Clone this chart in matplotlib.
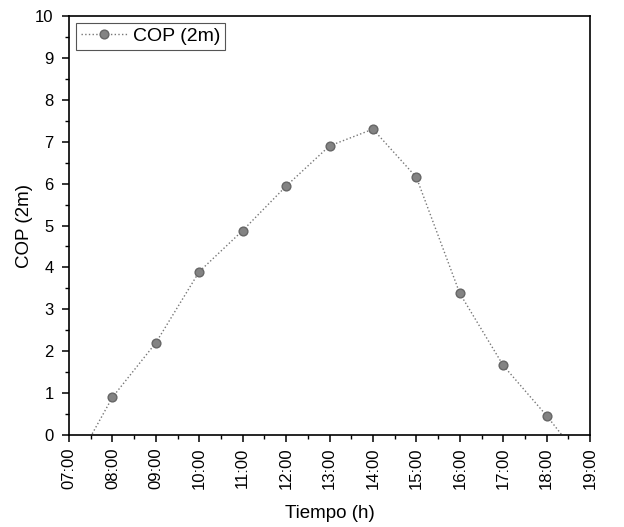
import matplotlib
matplotlib.use('Agg')
import matplotlib.pyplot as plt
from matplotlib.ticker import MultipleLocator, FuncFormatter

plt.rcParams['font.family'] = ['Liberation Sans', 'DejaVu Sans']

# datos: hora del dia y COP medido a 2 m
horas = [7, 8, 9, 10, 11, 12, 13, 14, 15, 16, 17, 18, 19]
cop_2m = [-0.97, 0.9, 2.2, 3.9, 4.88, 5.94, 6.9, 7.3, 6.15, 3.38, 1.66, 0.46, -0.85]

fig = plt.figure(figsize=(6.24, 5.27), dpi=100)
ax = fig.add_axes([0.1106, 0.1746, 0.835, 0.795])

ax.plot(horas, cop_2m, color='#777777', linestyle=':', linewidth=1.0,
        marker='o', markersize=6.3, markerfacecolor='#838383',
        markeredgecolor='#666666', label='COP (2m)')

ax.set_xlim(7, 19)
ax.set_ylim(0, 10)
ax.xaxis.set_major_locator(MultipleLocator(1))
ax.xaxis.set_minor_locator(MultipleLocator(0.5))
ax.yaxis.set_major_locator(MultipleLocator(1))
ax.yaxis.set_minor_locator(MultipleLocator(0.5))
ax.xaxis.set_major_formatter(FuncFormatter(lambda v, p: '%02d:00' % int(round(v))))

ax.tick_params(axis='both', which='both', direction='out', top=False, right=False)
ax.tick_params(axis='both', which='major', length=5, width=1.1)
ax.tick_params(axis='both', which='minor', length=3, width=1)
ax.tick_params(axis='x', labelsize=12, labelrotation=90, pad=4)
ax.tick_params(axis='y', labelsize=12, pad=6)

for s in ax.spines.values():
    s.set_linewidth(1.2)

ax.set_xlabel('Tiempo (h)', fontsize=13.5)
ax.set_ylabel('COP (2m)', fontsize=13.5)
ax.xaxis.set_label_coords(0.5, -0.168)
ax.yaxis.set_label_coords(-0.069, 0.5)

leg = ax.legend(loc='upper left', fontsize=14, handlelength=2.4,
                fancybox=False, framealpha=1, borderpad=0.25,
                borderaxespad=0.35, handletextpad=0.3)
leg.get_frame().set_edgecolor('#555555')
leg.get_frame().set_linewidth(0.8)

fig.savefig('out.png', dpi=100)
